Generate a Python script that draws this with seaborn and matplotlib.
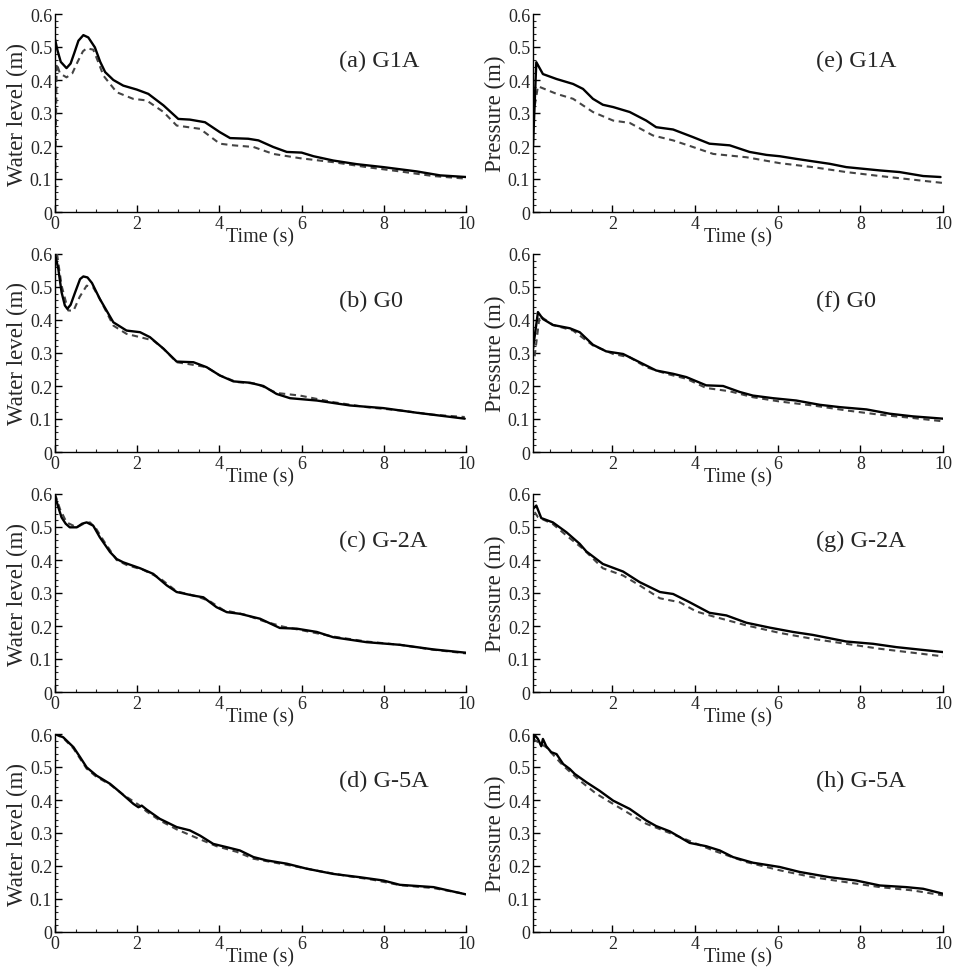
import numpy as np
import pandas as pd
import matplotlib
matplotlib.use("Agg")
import matplotlib.pyplot as plt
import seaborn as sns
from matplotlib.ticker import MultipleLocator, FuncFormatter

# ---------------- data ----------------
# (a) G1A water level
a_sim_t = [0.0, 0.06, 0.14, 0.28, 0.38, 0.47, 0.57, 0.69, 0.81, 0.97, 1.10, 1.22, 1.42, 1.66, 1.99, 2.27, 2.64, 3.0, 3.28, 3.65, 4.01, 4.26, 4.70, 4.95, 5.31, 5.64, 6.0, 6.29, 6.77, 7.34, 7.99, 8.80, 9.37, 10.0]
a_sim_v = [0.524, 0.490, 0.455, 0.436, 0.450, 0.482, 0.519, 0.536, 0.529, 0.499, 0.455, 0.424, 0.400, 0.383, 0.371, 0.358, 0.323, 0.282, 0.280, 0.272, 0.242, 0.224, 0.222, 0.217, 0.197, 0.182, 0.180, 0.169, 0.156, 0.145, 0.136, 0.123, 0.111, 0.106]
a_exp_t = [0.0, 0.04, 0.12, 0.28, 0.42, 0.55, 0.68, 0.77, 0.93, 1.05, 1.18, 1.5, 1.9, 2.23, 2.64, 2.96, 3.53, 4.01, 4.34, 4.83, 5.31, 5.96, 6.77, 7.58, 8.39, 9.2, 10.0]
a_exp_v = [0.0, 0.45, 0.42, 0.408, 0.420, 0.455, 0.487, 0.496, 0.492, 0.455, 0.413, 0.363, 0.343, 0.338, 0.303, 0.262, 0.252, 0.207, 0.202, 0.197, 0.176, 0.163, 0.151, 0.136, 0.123, 0.109, 0.101]

# (b) G0 water level
b_sim_t = [0.0, 0.08, 0.16, 0.24, 0.30, 0.38, 0.49, 0.61, 0.69, 0.79, 0.90, 1.09, 1.42, 1.74, 2.07, 2.31, 2.64, 2.96, 3.37, 3.69, 4.01, 4.34, 4.74, 5.07, 5.39, 5.72, 6.37, 7.18, 7.99, 8.80, 9.97]
b_sim_v = [0.600, 0.555, 0.484, 0.444, 0.434, 0.446, 0.484, 0.524, 0.532, 0.529, 0.512, 0.464, 0.393, 0.368, 0.363, 0.348, 0.313, 0.274, 0.272, 0.257, 0.232, 0.214, 0.210, 0.200, 0.176, 0.163, 0.156, 0.141, 0.133, 0.119, 0.101]
b_exp_t = [0.05, 0.16, 0.32, 0.45, 0.60, 0.77, 0.93, 1.09, 1.42, 1.74, 2.07, 2.39, 2.64, 2.96, 3.37, 3.69, 4.01, 4.42, 4.91, 5.39, 5.96, 6.77, 7.58, 8.39, 9.2, 9.97]
b_exp_v = [0.600, 0.504, 0.429, 0.428, 0.470, 0.504, 0.499, 0.464, 0.383, 0.358, 0.348, 0.338, 0.313, 0.272, 0.264, 0.257, 0.232, 0.212, 0.207, 0.179, 0.171, 0.151, 0.136, 0.126, 0.113, 0.106]

# (c) G-2A water level
c_sim_t = [0.0, 0.08, 0.16, 0.26, 0.36, 0.53, 0.66, 0.77, 0.93, 1.09, 1.34, 1.50, 1.66, 2.07, 2.39, 2.72, 2.96, 3.37, 3.61, 3.93, 4.18, 4.50, 4.99, 5.47, 5.88, 6.37, 6.77, 7.58, 8.39, 9.21, 10.0]
c_sim_v = [0.595, 0.560, 0.529, 0.510, 0.499, 0.499, 0.510, 0.514, 0.504, 0.469, 0.424, 0.403, 0.393, 0.375, 0.358, 0.323, 0.303, 0.292, 0.287, 0.257, 0.242, 0.237, 0.222, 0.194, 0.192, 0.182, 0.166, 0.151, 0.143, 0.129, 0.119]
c_exp_t = [0.0, 0.12, 0.28, 0.53, 0.70, 0.85, 1.00, 1.18, 1.50, 1.74, 2.15, 2.55, 2.96, 3.45, 3.77, 4.10, 4.60, 5.07, 5.55, 6.05, 6.77, 7.58, 8.39, 9.21, 10.0]
c_exp_v = [0.600, 0.555, 0.514, 0.499, 0.510, 0.514, 0.495, 0.459, 0.400, 0.385, 0.370, 0.345, 0.305, 0.290, 0.275, 0.248, 0.235, 0.215, 0.198, 0.186, 0.168, 0.153, 0.143, 0.128, 0.117]

# (d) G-5A water level
d_sim_t = [0.0, 0.2, 0.45, 0.61, 0.77, 1.01, 1.34, 1.58, 1.91, 2.03, 2.11, 2.23, 2.55, 2.96, 3.28, 3.53, 3.85, 4.18, 4.50, 4.83, 5.15, 5.64, 6.12, 6.77, 7.42, 7.99, 8.39, 9.21, 10.0]
d_sim_v = [0.600, 0.590, 0.560, 0.530, 0.499, 0.474, 0.449, 0.424, 0.388, 0.378, 0.383, 0.371, 0.343, 0.318, 0.308, 0.292, 0.267, 0.257, 0.247, 0.227, 0.217, 0.207, 0.192, 0.176, 0.166, 0.156, 0.143, 0.136, 0.114]
d_exp_t = [0.0, 0.2, 0.45, 0.77, 1.01, 1.34, 1.66, 2.03, 2.23, 2.55, 2.96, 3.45, 3.93, 4.42, 4.83, 5.31, 5.80, 6.45, 7.10, 7.75, 8.39, 9.21, 10.0]
d_exp_v = [0.600, 0.588, 0.556, 0.495, 0.470, 0.447, 0.416, 0.386, 0.365, 0.338, 0.311, 0.285, 0.260, 0.243, 0.222, 0.211, 0.200, 0.184, 0.170, 0.158, 0.142, 0.133, 0.115]

# (e) G1A pressure
e_sim_t = [0.08, 0.16, 0.32, 0.65, 1.05, 1.29, 1.53, 1.77, 2.02, 2.42, 2.82, 3.06, 3.47, 3.95, 4.35, 4.84, 5.32, 5.73, 6.05, 6.45, 7.26, 7.66, 8.47, 8.95, 9.52, 9.94]
e_sim_v = [0.200, 0.454, 0.418, 0.403, 0.388, 0.373, 0.343, 0.325, 0.318, 0.303, 0.277, 0.257, 0.250, 0.227, 0.207, 0.202, 0.182, 0.173, 0.169, 0.161, 0.146, 0.136, 0.126, 0.121, 0.109, 0.106]
e_exp_t = [0.08, 0.20, 0.65, 1.05, 1.53, 2.02, 2.42, 2.98, 3.47, 3.95, 4.44, 5.24, 6.05, 6.85, 7.66, 8.47, 9.27, 10.0]
e_exp_v = [0.290, 0.381, 0.358, 0.343, 0.303, 0.277, 0.270, 0.232, 0.217, 0.197, 0.176, 0.166, 0.148, 0.136, 0.121, 0.109, 0.098, 0.088]

# (f) G0 pressure
f_sim_t = [0.08, 0.20, 0.32, 0.56, 0.97, 1.21, 1.53, 1.85, 2.26, 2.66, 3.06, 3.47, 3.79, 4.27, 4.68, 5.08, 5.40, 5.89, 6.45, 7.02, 7.50, 8.15, 8.71, 9.27, 10.0]
f_sim_v = [0.313, 0.424, 0.403, 0.385, 0.375, 0.363, 0.325, 0.305, 0.297, 0.272, 0.247, 0.237, 0.227, 0.202, 0.200, 0.182, 0.171, 0.163, 0.156, 0.143, 0.136, 0.129, 0.116, 0.108, 0.101]
f_exp_t = [0.12, 0.24, 0.56, 1.05, 1.53, 2.02, 2.42, 2.82, 3.31, 3.79, 4.27, 4.84, 5.40, 6.05, 6.85, 7.66, 8.47, 9.27, 10.0]
f_exp_v = [0.290, 0.413, 0.385, 0.368, 0.323, 0.297, 0.287, 0.257, 0.237, 0.222, 0.194, 0.184, 0.166, 0.153, 0.141, 0.126, 0.113, 0.103, 0.093]

# (g) G-2A pressure
g_sim_t = [0.08, 0.16, 0.28, 0.56, 0.89, 1.21, 1.37, 1.77, 2.26, 2.66, 3.15, 3.47, 3.87, 4.35, 4.76, 5.24, 5.81, 6.37, 6.85, 7.66, 8.31, 8.87, 10.0]
g_sim_v = [0.555, 0.565, 0.527, 0.514, 0.484, 0.449, 0.426, 0.388, 0.365, 0.333, 0.303, 0.297, 0.272, 0.240, 0.232, 0.210, 0.195, 0.182, 0.173, 0.153, 0.146, 0.136, 0.121]
g_exp_t = [0.12, 0.20, 0.56, 0.89, 1.29, 1.77, 2.26, 2.66, 3.15, 3.63, 4.03, 4.44, 5.24, 6.05, 6.85, 7.66, 8.47, 9.27, 10.0]
g_exp_v = [0.545, 0.530, 0.509, 0.474, 0.434, 0.375, 0.353, 0.323, 0.284, 0.272, 0.244, 0.229, 0.202, 0.179, 0.161, 0.146, 0.131, 0.119, 0.108]

# (h) G-5A pressure
h_sim_t = [0.08, 0.12, 0.20, 0.28, 0.32, 0.40, 0.52, 0.65, 0.81, 0.97, 1.09, 1.37, 1.69, 2.02, 2.42, 2.82, 3.06, 3.39, 3.87, 4.27, 4.60, 4.92, 5.40, 6.05, 6.53, 7.26, 7.90, 8.47, 9.11, 9.52, 10.0]
h_sim_v = [0.575, 0.597, 0.585, 0.563, 0.585, 0.563, 0.545, 0.539, 0.509, 0.494, 0.479, 0.454, 0.428, 0.398, 0.373, 0.338, 0.321, 0.305, 0.270, 0.260, 0.247, 0.227, 0.210, 0.197, 0.182, 0.166, 0.156, 0.141, 0.136, 0.131, 0.116]
h_exp_t = [0.08, 0.40, 0.81, 1.21, 1.61, 2.02, 2.82, 3.63, 4.44, 5.24, 6.05, 6.85, 7.66, 8.47, 9.27, 10.0]
h_exp_v = [0.585, 0.560, 0.504, 0.459, 0.419, 0.388, 0.328, 0.288, 0.247, 0.212, 0.187, 0.166, 0.151, 0.136, 0.126, 0.111]

panel_labels = ["(a) G1A", "(b) G0", "(c) G-2A", "(d) G-5A",
                "(e) G1A", "(f) G0", "(g) G-2A", "(h) G-5A"]
ylabels = ["Water level (m)", "Pressure (m)"]
xlabel = "Time (s)"
yticks = [0, 0.1, 0.2, 0.3, 0.4, 0.5, 0.6]
xticks = [0, 2, 4, 6, 8, 10]

panels = [
    (a_sim_t, a_sim_v, a_exp_t, a_exp_v),
    (b_sim_t, b_sim_v, b_exp_t, b_exp_v),
    (c_sim_t, c_sim_v, c_exp_t, c_exp_v),
    (d_sim_t, d_sim_v, d_exp_t, d_exp_v),
    (e_sim_t, e_sim_v, e_exp_t, e_exp_v),
    (f_sim_t, f_sim_v, f_exp_t, f_exp_v),
    (g_sim_t, g_sim_v, g_exp_t, g_exp_v),
    (h_sim_t, h_sim_v, h_exp_t, h_exp_v),
]

# ---------------- styling ----------------
sns.set_style("ticks")
plt.rcParams["font.family"] = ["Liberation Serif", "DejaVu Serif"]

W, H = 958, 970
fig = plt.figure(figsize=(W / 100, H / 100), dpi=100)

col_left = [55, 533]
col_width = [411, 410]
row_top = [15, 255, 495, 735]
ax_h = 198

fmt = FuncFormatter(lambda v, p: f"{v:g}")

for i, (st, sv, et, ev) in enumerate(panels):
    col = i // 4
    row = i % 4
    left = col_left[col] / W
    bottom = 1 - (row_top[row] + ax_h) / H
    ax = fig.add_axes([left, bottom, col_width[col] / W, ax_h / H])

    df = pd.concat([
        pd.DataFrame({"t": st, "v": sv, "kind": "sim"}),
        pd.DataFrame({"t": et, "v": ev, "kind": "exp"}),
    ], ignore_index=True)

    sns.lineplot(data=df[df.kind == "exp"], x="t", y="v", ax=ax, sort=False,
                 estimator=None, color="#444444", lw=1.5)
    ax.lines[-1].set_dashes([3, 2.2])
    sns.lineplot(data=df[df.kind == "sim"], x="t", y="v", ax=ax, sort=False,
                 estimator=None, color="black", lw=1.7)
    for ln in ax.lines:
        ln.set_solid_joinstyle("round")
        ln.set_dash_joinstyle("round")

    x0 = 0.0 if col == 0 else 0.08
    ax.set_xlim(x0, 10)
    ax.set_ylim(0, 0.6)
    ax.set_xticks([x for x in xticks if x >= x0])
    ax.set_yticks(yticks)
    ax.xaxis.set_minor_locator(MultipleLocator(0.5))
    ax.yaxis.set_minor_locator(MultipleLocator(0.02))
    ax.xaxis.set_major_formatter(fmt)
    ax.yaxis.set_major_formatter(fmt)
    ax.tick_params(which="major", direction="in", length=5, width=1,
                   labelsize=13, pad=2, color="black")
    ax.tick_params(which="minor", direction="in", length=2.5, width=0.8)
    for s in ["top", "right"]:
        ax.spines[s].set_visible(False)
    for s in ["left", "bottom"]:
        ax.spines[s].set_linewidth(1.0)
        ax.spines[s].set_color("black")

    ax.set_xlabel(xlabel, fontsize=14.5, labelpad=-3)
    ax.set_ylabel(ylabels[col], fontsize=16.5, labelpad=1)
    ax.text(0.69, 0.765, panel_labels[i], transform=ax.transAxes,
            fontsize=17.5, ha="left", va="center")

fig.savefig("out.png", dpi=100)
